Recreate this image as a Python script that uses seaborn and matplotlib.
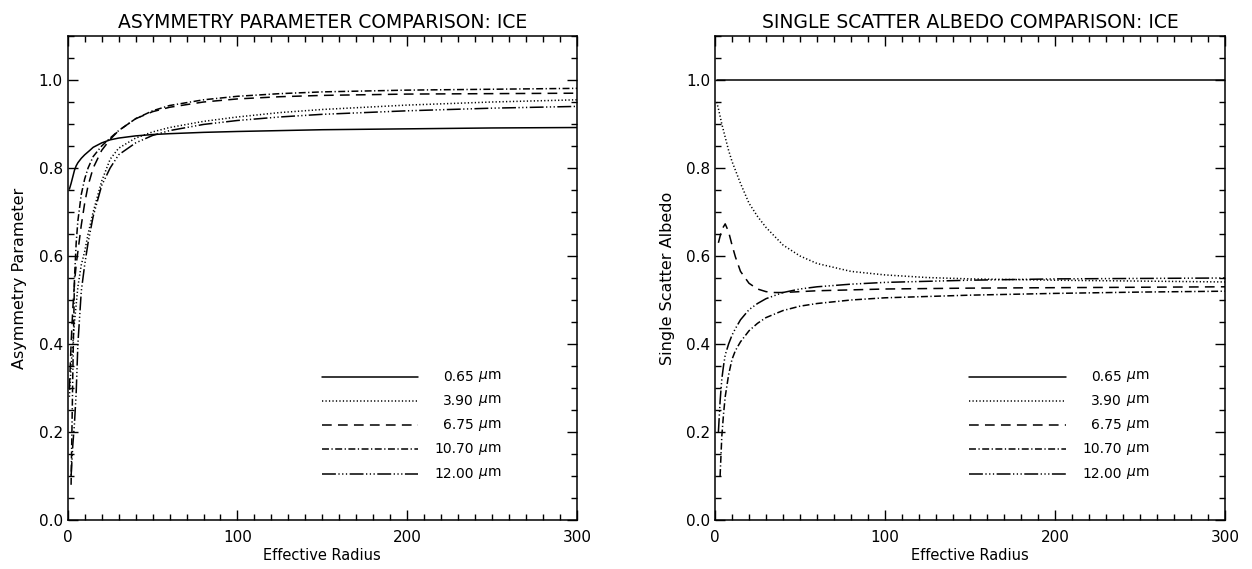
import numpy as np
import pandas as pd
import matplotlib
matplotlib.use("Agg")
import matplotlib.pyplot as plt
import seaborn as sns

# ---------------- data ----------------
wavelengths = ["0.65", "3.90", "6.75", "10.70", "12.00"]

# Asymmetry parameter (left panel)
asym_x = {
    "0.65": [1, 2, 3, 4, 5, 6, 8, 10, 13, 15, 20, 25, 30, 40, 50, 60, 80, 100, 150, 200, 250, 300],
    "3.90": [1, 2, 3, 4, 6, 8, 10, 12, 15, 20, 25, 30, 40, 50, 60, 80, 100, 125, 150, 200, 250, 300],
    "6.75": [1, 2, 3, 4, 5, 6, 8, 10, 12, 15, 20, 25, 30, 40, 50, 60, 80, 100, 125, 150, 200, 250, 300],
    "10.70": [2, 3, 4, 5, 6, 8, 10, 12, 15, 20, 25, 30, 40, 50, 60, 80, 100, 125, 150, 200, 250, 300],
    "12.00": [2, 3, 4, 5, 6, 8, 10, 12, 15, 20, 25, 30, 40, 50, 60, 80, 100, 125, 150, 200, 250, 300],
}
asym_y = {
    "0.65": [0.752, 0.765, 0.780, 0.795, 0.805, 0.812, 0.822, 0.830, 0.840, 0.847, 0.857, 0.864, 0.868,
             0.873, 0.876, 0.878, 0.881, 0.883, 0.887, 0.889, 0.891, 0.892],
    "3.90": [0.28, 0.35, 0.40, 0.45, 0.53, 0.58, 0.61, 0.65, 0.70, 0.77, 0.82, 0.845, 0.868, 0.882,
             0.892, 0.906, 0.916, 0.926, 0.933, 0.943, 0.950, 0.955],
    "6.75": [0.30, 0.40, 0.48, 0.54, 0.58, 0.61, 0.67, 0.72, 0.76, 0.80, 0.84, 0.865, 0.885, 0.912,
             0.928, 0.938, 0.950, 0.957, 0.962, 0.965, 0.968, 0.969, 0.970],
    "10.70": [0.08, 0.33, 0.55, 0.63, 0.68, 0.74, 0.775, 0.80, 0.826, 0.850, 0.868, 0.885, 0.912,
              0.930, 0.942, 0.955, 0.963, 0.969, 0.973, 0.977, 0.979, 0.981],
    "12.00": [0.10, 0.17, 0.22, 0.29, 0.40, 0.52, 0.58, 0.63, 0.69, 0.76, 0.80, 0.83, 0.857, 0.874,
              0.885, 0.899, 0.908, 0.916, 0.922, 0.930, 0.936, 0.940],
}

# Single scatter albedo (right panel)
alb_x = {
    "0.65": [1, 300],
    "3.90": [1, 2, 4, 6, 8, 10, 12, 15, 20, 25, 30, 40, 50, 60, 80, 100, 125, 150, 200, 250, 300],
    "6.75": [2, 4, 6, 8, 10, 12, 15, 20, 25, 30, 35, 40, 50, 60, 80, 100, 150, 200, 300],
    "10.70": [3, 4, 5, 6, 8, 10, 12, 15, 20, 25, 30, 40, 50, 60, 80, 100, 150, 200, 250, 300],
    "12.00": [2, 3, 4, 5, 6, 8, 10, 12, 15, 20, 25, 30, 40, 50, 60, 80, 100, 150, 200, 300],
}
alb_y = {
    "0.65": [1.0, 1.0],
    "3.90": [0.950, 0.935, 0.900, 0.870, 0.840, 0.815, 0.795, 0.765, 0.720, 0.690, 0.665, 0.625,
             0.600, 0.583, 0.565, 0.557, 0.551, 0.548, 0.545, 0.543, 0.541],
    "6.75": [0.630, 0.660, 0.673, 0.655, 0.625, 0.598, 0.565, 0.538, 0.525, 0.519, 0.517, 0.517,
             0.519, 0.521, 0.523, 0.525, 0.527, 0.528, 0.530],
    "10.70": [0.10, 0.19, 0.24, 0.28, 0.33, 0.365, 0.385, 0.405, 0.430, 0.447, 0.460, 0.476, 0.486,
              0.492, 0.500, 0.505, 0.511, 0.515, 0.518, 0.520],
    "12.00": [0.20, 0.27, 0.32, 0.35, 0.375, 0.40, 0.42, 0.435, 0.455, 0.478, 0.492, 0.503, 0.517,
              0.525, 0.530, 0.536, 0.540, 0.545, 0.548, 0.550],
}

titles = ["ASYMMETRY PARAMETER COMPARISON: ICE", "SINGLE SCATTER ALBEDO COMPARISON: ICE"]
ylabels = ["Asymmetry Parameter", "Single Scatter Albedo"]
xlabel = "Effective Radius"
xticks = [0, 100, 200, 300]
yticks = [0.0, 0.2, 0.4, 0.6, 0.8, 1.0]

# ---------------- style ----------------
sns.set_theme(style="white")
plt.rcParams["font.family"] = ["DejaVu Sans"]
plt.rcParams["lines.scale_dashes"] = False
plt.rcParams["mathtext.fontset"] = "dejavusans"

dash_map = {
    "0.65": "",
    "3.90": (0.9, 1.6),
    "6.75": (7.0, 4.5),
    "10.70": (5.0, 1.8, 0.9, 1.8),
    "12.00": (10.0, 1.8, 0.9, 1.8, 0.9, 1.8, 0.9, 1.8),
}
LW = 1.1


def long_frame(xs, ys):
    rows = []
    for w in wavelengths:
        for xv, yv in zip(xs[w], ys[w]):
            rows.append({"r": xv, "v": yv, "wl": w})
    return pd.DataFrame(rows)


fig = plt.figure(figsize=(12.52, 5.69), dpi=100)
W, H = 1252, 569
ax_left = fig.add_axes([67.7 / W, 1 - 520 / H, (577 - 67.7) / W, (520 - 36) / H])
ax_right = fig.add_axes([715 / W, 1 - 520 / H, (1225 - 715) / W, (520 - 36) / H])

for ax, (xs, ys), title, ylab in zip(
    [ax_left, ax_right], [(asym_x, asym_y), (alb_x, alb_y)], titles, ylabels
):
    df = long_frame(xs, ys)
    sns.lineplot(data=df, x="r", y="v", style="wl", style_order=wavelengths,
                 dashes=dash_map, color="black", linewidth=LW, legend=False,
                 ax=ax, sort=False, estimator=None)
    ax.set_xlim(0, 300)
    ax.set_ylim(0, 1.1)
    ax.set_xticks(xticks)
    ax.set_xticklabels([str(t) for t in xticks])
    ax.set_yticks(yticks)
    ax.set_yticklabels([f"{t:.1f}" for t in yticks])
    ax.xaxis.set_minor_locator(matplotlib.ticker.MultipleLocator(10))
    ax.yaxis.set_minor_locator(matplotlib.ticker.MultipleLocator(0.05))
    ax.tick_params(which="both", direction="in", top=True, right=True,
                   bottom=True, left=True, color="black", width=1.0,
                   labelsize=11, labelcolor="black")
    ax.tick_params(which="major", length=7.5)
    ax.tick_params(which="minor", length=4)
    ax.tick_params(axis="x", which="major", pad=7)
    for s in ax.spines.values():
        s.set_color("black")
        s.set_linewidth(1.1)
        s.set_visible(True)
    ax.set_facecolor("white")
    ax.set_title(title, fontsize=13.5, color="black", pad=6)
    ax.set_xlabel(xlabel, fontsize=10.5, color="black", labelpad=2)
    ax.set_ylabel(ylab, fontsize=11.5, color="black", labelpad=8)

    # legend drawn as in the original figure
    row_y = [0.296, 0.246, 0.196, 0.146, 0.096]
    for w, yy in zip(wavelengths, row_y):
        ax.plot([0.499, 0.688], [yy, yy], transform=ax.transAxes, color="black",
                linewidth=LW, dashes=dash_map[w] if dash_map[w] else (None, None))
        ax.text(0.797, yy, w, transform=ax.transAxes, ha="right", va="center",
                fontsize=10, color="black")
        ax.text(0.805, yy, r"$\mu$m", transform=ax.transAxes, ha="left", va="center",
                fontsize=10, color="black")

fig.savefig("out.png", dpi=100, facecolor="white")
